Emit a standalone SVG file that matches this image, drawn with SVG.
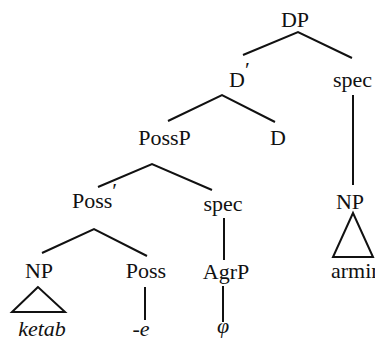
<svg xmlns="http://www.w3.org/2000/svg" width="375" height="344" viewBox="0 0 375 344">
  <style>
    text { font-family: 'Liberation Serif', 'Times New Roman', serif; font-size: 22px; fill: #111; }
    .mid { text-anchor: middle; }
    .it { font-style: italic; }
    .edge { fill: none; stroke: #111; stroke-width: 2; }
  </style>
  <rect width="375" height="344" fill="#fff"/>

  <!-- tree branches -->
  <g id="connectors">
    <polyline class="edge" points="243,55 298,32 352,58"/>
    <polyline class="edge" points="168,121 222,95 275,122"/>
    <line class="edge" x1="353" y1="95" x2="353" y2="185"/>
    <polyline class="edge" points="98,187 152,164 212,190"/>
    <polyline class="edge" points="42,253 94,229 147,256"/>
    <line class="edge" x1="224" y1="218" x2="224" y2="260"/>
    <line class="edge" x1="223" y1="286" x2="223" y2="322"/>
    <line class="edge" x1="145" y1="287" x2="145" y2="320"/>
    <polygon class="edge" points="38,287 12,312 65,312"/>
    <polygon class="edge" points="353,213 333,257 373,257"/>
  </g>

  <!-- node labels -->
  <g id="dp"><text class="mid" x="295" y="27">DP</text></g>
  <g id="d-bar"><text x="229" y="87">D<tspan dy="-10">′</tspan></text></g>
  <g id="spec-top"><text x="333" y="87">spec</text></g>
  <g id="possp"><text class="mid" x="164.5" y="145">PossP</text></g>
  <g id="d-head"><text class="mid" x="278" y="145">D</text></g>
  <g id="poss-bar"><text x="72" y="208">Poss<tspan dy="-10">′</tspan></text></g>
  <g id="spec-mid"><text class="mid" x="223" y="211">spec</text></g>
  <g id="np-right"><text class="mid" x="350" y="209">NP</text></g>
  <g id="np-left"><text class="mid" x="39" y="278">NP</text></g>
  <g id="poss-head"><text class="mid" x="146" y="278">Poss</text></g>
  <g id="agrp"><text class="mid" x="226" y="279">AgrP</text></g>
  <g id="armin"><text x="331" y="278">armin</text></g>
  <g id="ketab"><text class="mid it" x="42" y="336">ketab</text></g>
  <g id="suffix"><text class="mid it" x="141" y="336">-e</text></g>
  <g id="phi"><text class="mid it" x="223" y="333" font-size="13">φ</text></g>
</svg>
